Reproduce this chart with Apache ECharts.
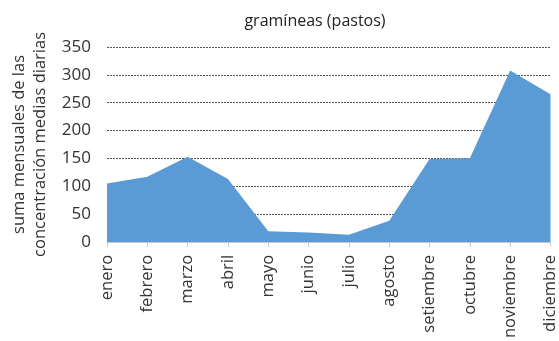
<!DOCTYPE html>
<html>
<head>
<meta charset="utf-8">
<script src="https://cdn.jsdelivr.net/npm/echarts@6/dist/echarts.min.js"></script>
<style>
  html, body { margin: 0; padding: 0; background: #fff; }
  #chart { width: 559px; height: 341px; }
</style>
</head>
<body>
<div id="chart"></div>
<script>
// monthly data
var months = ["enero", "febrero", "marzo", "abril", "mayo", "junio", "julio",
  "agosto", "setiembre", "octubre", "noviembre", "diciembre"];
var pastos = [105, 117, 153, 113, 19, 17, 13, 38, 149, 150, 308, 265];
var yTicks = [0, 50, 100, 150, 200, 250, 300, 350];

var chart = echarts.init(document.getElementById("chart"));
chart.setOption({
  animation: false,
  title: {
    text: "gramíneas (pastos)",
    left: 310,
    textAlign: "center",
    top: 8,
    textStyle: { fontFamily: "Open Sans", fontSize: 16, fontWeight: "normal", color: "#222" }
  },
  grid: { left: 107, right: 6, top: 47, bottom: 98 },
  xAxis: {
    type: "category",
    data: months,
    boundaryGap: false,
    axisLine: { lineStyle: { color: "#c8c8c8" } },
    axisTick: { show: true, alignWithLabel: true, length: 5, lineStyle: { color: "#c8c8c8" } },
    axisLabel: {
      rotate: 90,
      interval: 0,
      margin: 13,
      fontFamily: "Open Sans",
      fontSize: 16.5,
      color: "#333"
    }
  },
  yAxis: {
    type: "value",
    min: yTicks[0],
    max: yTicks[yTicks.length - 1],
    interval: 50,
    name: "suma mensuales de las\nconcentración medias diarias",
    nameLocation: "middle",
    nameRotate: 90,
    nameGap: 56,
    nameTextStyle: { fontFamily: "Open Sans", fontSize: 16.5, color: "#333", lineHeight: 21 },
    axisLine: { show: false },
    axisTick: { show: false },
    axisLabel: { fontFamily: "Open Sans", fontSize: 17, color: "#333", margin: 16 },
    splitLine: { lineStyle: { color: "#555", type: [2, 1], width: 1 } }
  },
  series: [{
    type: "line",
    data: pastos,
    symbol: "none",
    lineStyle: { width: 0 },
    areaStyle: { color: "#5b9bd5", opacity: 1 },
    z: 3
  }]
});
</script>
</body>
</html>
